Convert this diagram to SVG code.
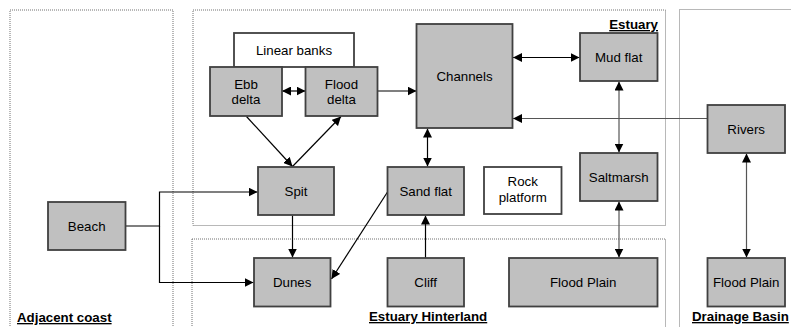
<svg xmlns="http://www.w3.org/2000/svg" width="791" height="327" viewBox="0 0 791 327">
<defs>
<marker id="ah" viewBox="0 0 10 10" refX="10" refY="5" markerWidth="9" markerHeight="9" markerUnits="userSpaceOnUse" orient="auto-start-reverse">
<path d="M0,0 L10,5 L0,10 z" fill="#000"/>
</marker>
<style>
.zone{fill:none;stroke:#707070;stroke-width:1;stroke-dasharray:1,1}
.box{fill:#c0c0c0;stroke:#404040;stroke-width:1.8}
.wbox{fill:#fff;stroke:#404040;stroke-width:1.8}
.t{font-family:"Liberation Sans",Arial,sans-serif;font-size:13.3px;fill:#000;text-anchor:middle}
.lbl{font-family:"Liberation Sans",Arial,sans-serif;font-size:13.3px;font-weight:bold;fill:#000;text-decoration:underline}
.c{fill:none;stroke:#000;stroke-width:1.2}
.g{fill:none;stroke:#555;stroke-width:1.2}
</style>
</defs>
<g id="zones">
<rect class="zone" x="10" y="10" width="163" height="330"/>
<rect class="zone" x="193" y="10" width="472.5" height="215.5"/>
<rect class="zone" x="192" y="239" width="473.5" height="100"/>
<rect class="zone" x="679.5" y="9.5" width="130" height="330"/>
<text class="lbl" x="658" y="29" text-anchor="end">Estuary</text>
<text class="lbl" x="17" y="322">Adjacent coast</text>
<text class="lbl" x="369" y="321">Estuary Hinterland</text>
<text class="lbl" x="692" y="321">Drainage Basin</text>
</g>
<g id="connectors">
<line class="c" x1="282" y1="91" x2="305.5" y2="91" marker-start="url(#ah)" marker-end="url(#ah)"/>
<line class="c" x1="378" y1="91" x2="416.5" y2="91" marker-end="url(#ah)"/>
<line class="c" x1="513" y1="57.5" x2="579.5" y2="57.5" marker-start="url(#ah)" marker-end="url(#ah)"/>
<line class="g" x1="707.5" y1="118.5" x2="513" y2="118.5" marker-end="url(#ah)"/>
<line class="g" x1="619" y1="81.5" x2="619" y2="152.5" marker-start="url(#ah)" marker-end="url(#ah)"/>
<line class="c" x1="427.5" y1="128.5" x2="427.5" y2="166.5" marker-start="url(#ah)" marker-end="url(#ah)"/>
<line class="c" x1="246.5" y1="116.5" x2="292.5" y2="166.5" marker-end="url(#ah)"/>
<line class="c" x1="292.5" y1="166.5" x2="341" y2="116.5" marker-end="url(#ah)"/>
<polyline class="c" points="126,226 159.5,226 159.5,192 257.5,192" marker-end="url(#ah)"/>
<polyline class="c" points="159.5,226 159.5,282.5 253.5,282.5" marker-end="url(#ah)"/>
<line class="c" x1="292.5" y1="215.5" x2="292.5" y2="257.5" marker-end="url(#ah)"/>
<line class="c" x1="387.5" y1="192" x2="331.5" y2="279" marker-end="url(#ah)"/>
<line class="c" x1="425.5" y1="258" x2="425.5" y2="215.5" marker-end="url(#ah)"/>
<line class="g" x1="619" y1="201.5" x2="619" y2="257.5" marker-start="url(#ah)" marker-end="url(#ah)"/>
<line class="g" x1="746.5" y1="153.5" x2="746.5" y2="257.5" marker-start="url(#ah)" marker-end="url(#ah)"/>
</g>
<g id="linear-banks"><rect class="wbox" x="234" y="33" width="120" height="34"/><text class="t" x="294" y="54.5">Linear banks</text></g>
<g id="ebb-delta"><rect class="box" x="210" y="67" width="72" height="49"/><text class="t" x="246" y="88.5">Ebb</text><text class="t" x="246" y="104">delta</text></g>
<g id="flood-delta"><rect class="box" x="305.5" y="67" width="72" height="49"/><text class="t" x="341.5" y="88.5">Flood</text><text class="t" x="341.5" y="104">delta</text></g>
<g id="channels"><rect class="box" x="416.5" y="24" width="96" height="104"/><text class="t" x="464.5" y="80.5">Channels</text></g>
<g id="mud-flat"><rect class="box" x="580" y="33" width="77.5" height="48"/><text class="t" x="618.7" y="61.5">Mud flat</text></g>
<g id="rivers"><rect class="box" x="707.5" y="105" width="77.5" height="48"/><text class="t" x="746.2" y="133.5">Rivers</text></g>
<g id="spit"><rect class="box" x="258" y="167" width="76" height="48"/><text class="t" x="296" y="196">Spit</text></g>
<g id="sand-flat"><rect class="box" x="387.5" y="167" width="76.5" height="48"/><text class="t" x="425.7" y="196">Sand flat</text></g>
<g id="rock-platform"><rect class="wbox" x="484" y="167" width="77.5" height="47"/><text class="t" x="522.7" y="186">Rock</text><text class="t" x="522.7" y="201.5">platform</text></g>
<g id="saltmarsh"><rect class="box" x="580" y="153" width="77.5" height="48"/><text class="t" x="618.7" y="181.5">Saltmarsh</text></g>
<g id="beach"><rect class="box" x="48" y="202" width="77.5" height="48"/><text class="t" x="86.7" y="230.5">Beach</text></g>
<g id="dunes"><rect class="box" x="254" y="258" width="76.5" height="48.5"/><text class="t" x="292.2" y="287">Dunes</text></g>
<g id="cliff"><rect class="box" x="387.5" y="258" width="76.5" height="48.5"/><text class="t" x="425.7" y="287">Cliff</text></g>
<g id="flood-plain-hinterland"><rect class="box" x="509" y="258" width="148.5" height="48.5"/><text class="t" x="583.2" y="287">Flood Plain</text></g>
<g id="flood-plain-basin"><rect class="box" x="707.5" y="258" width="77.5" height="48.5"/><text class="t" x="746.2" y="287">Flood Plain</text></g>
</svg>
